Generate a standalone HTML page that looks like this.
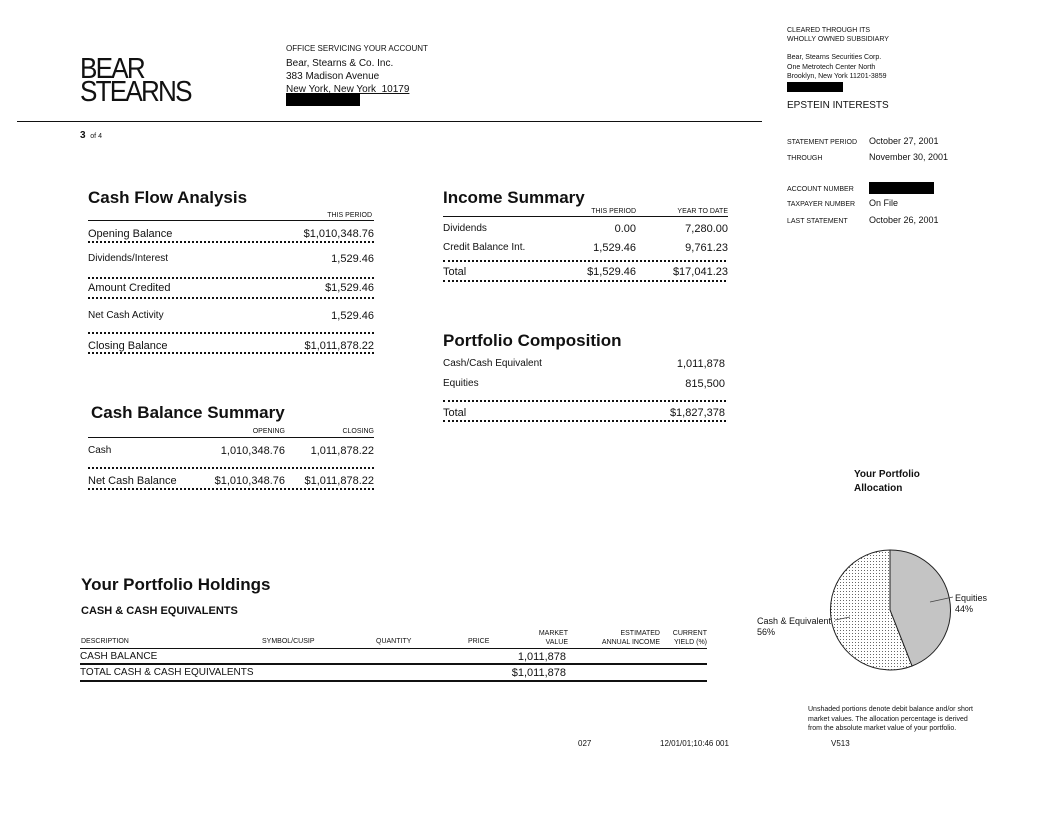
<!DOCTYPE html>
<html><head><meta charset="utf-8"><style>
body{margin:0;background:#fff;}
#p{position:relative;width:1056px;height:816px;overflow:hidden;font-family:"Liberation Sans",sans-serif;color:#111;}
.t{position:absolute;white-space:nowrap;line-height:1;}
.r{text-align:right;}
.s{font-size:11px;}
.x{font-size:7px;}
.h{font-size:17px;font-weight:bold;}
.d{position:absolute;height:0;border-top:2px dotted #111;}
.l{position:absolute;height:0;border-top:1px solid #111;}
.k{position:absolute;background:#000;}
</style></head><body><div id="p">
<div class="t" style="left:80px;top:58px;font-size:29px;line-height:23px;letter-spacing:-2px;transform:scaleX(0.9);transform-origin:left top">BEAR<br>STEARNS</div>
<div class="t x" style="left:286px;top:45px;font-size:8px">OFFICE SERVICING YOUR ACCOUNT</div>
<div class="t s" style="left:286px;top:57px;font-size:10px;line-height:13px">Bear, Stearns &amp; Co. Inc.<br>383 Madison Avenue<br><u>New York, New York&nbsp; 10179</u></div>
<div class="k" style="left:286px;top:93px;width:74px;height:13px"></div>
<div class="l" style="left:17px;top:121px;width:745px"></div>
<div class="t" style="left:80px;top:131px;font-size:10px;font-weight:bold">3 <span style="font-size:7px;font-weight:normal">&nbsp;of 4</span></div>

<div class="t x" style="left:787px;top:26px;line-height:9px">CLEARED THROUGH ITS<br>WHOLLY OWNED SUBSIDIARY</div>
<div class="t x" style="left:787px;top:53px;line-height:9.5px">Bear, Stearns Securities Corp.<br>One Metrotech Center North<br>Brooklyn, New York 11201-3859</div>
<div class="k" style="left:787px;top:82px;width:56px;height:10px"></div>
<div class="t" style="left:787px;top:101px;font-size:10px">EPSTEIN INTERESTS</div>
<div class="t x" style="left:787px;top:139px">STATEMENT PERIOD</div>
<div class="t" style="left:869px;top:137px;font-size:9px">October 27, 2001</div>
<div class="t x" style="left:787px;top:155px">THROUGH</div>
<div class="t" style="left:869px;top:153px;font-size:9px">November 30, 2001</div>
<div class="t x" style="left:787px;top:186px">ACCOUNT NUMBER</div>
<div class="k" style="left:869px;top:182px;width:65px;height:12px"></div>
<div class="t x" style="left:787px;top:201px">TAXPAYER NUMBER</div>
<div class="t" style="left:869px;top:199px;font-size:9px">On File</div>
<div class="t x" style="left:787px;top:218px">LAST STATEMENT</div>
<div class="t" style="left:869px;top:216px;font-size:9px">October 26, 2001</div>

<!-- Cash flow -->
<div class="t h" style="left:88px;top:189px">Cash Flow Analysis</div>
<div class="t x r" style="right:684px;top:212px">THIS PERIOD</div>
<div class="l" style="left:88px;top:220px;width:286px"></div>
<div class="t s" style="left:88px;top:229px">Opening Balance</div>
<div class="t s r" style="right:682px;top:229px">$1,010,348.76</div>
<div class="d" style="left:88px;top:241px;width:286px"></div>
<div class="t s" style="left:88px;top:254px;font-size:10px">Dividends/Interest</div>
<div class="t s r" style="right:682px;top:254px">1,529.46</div>
<div class="d" style="left:88px;top:277px;width:286px"></div>
<div class="t s" style="left:88px;top:283px">Amount Credited</div>
<div class="t s r" style="right:682px;top:283px">$1,529.46</div>
<div class="d" style="left:88px;top:297px;width:286px"></div>
<div class="t s" style="left:88px;top:311px;font-size:10px">Net Cash Activity</div>
<div class="t s r" style="right:682px;top:311px">1,529.46</div>
<div class="d" style="left:88px;top:332px;width:286px"></div>
<div class="t s" style="left:88px;top:341px">Closing Balance</div>
<div class="t s r" style="right:682px;top:341px">$1,011,878.22</div>
<div class="d" style="left:88px;top:352px;width:286px"></div>

<!-- Cash balance -->
<div class="t h" style="left:91px;top:404px">Cash Balance Summary</div>
<div class="t x r" style="right:771px;top:428px">OPENING</div>
<div class="t x r" style="right:682px;top:428px">CLOSING</div>
<div class="l" style="left:88px;top:437px;width:286px"></div>
<div class="t s" style="left:88px;top:446px;font-size:10px">Cash</div>
<div class="t s r" style="right:771px;top:446px">1,010,348.76</div>
<div class="t s r" style="right:682px;top:446px">1,011,878.22</div>
<div class="d" style="left:88px;top:467px;width:286px"></div>
<div class="t s" style="left:88px;top:476px">Net Cash Balance</div>
<div class="t s r" style="right:771px;top:476px">$1,010,348.76</div>
<div class="t s r" style="right:682px;top:476px">$1,011,878.22</div>
<div class="d" style="left:88px;top:488px;width:286px"></div>

<!-- Income -->
<div class="t h" style="left:443px;top:189px">Income Summary</div>
<div class="t x r" style="right:420px;top:208px">THIS PERIOD</div>
<div class="t x r" style="right:328px;top:208px">YEAR TO DATE</div>
<div class="l" style="left:443px;top:216px;width:285px"></div>
<div class="t s" style="left:443px;top:224px;font-size:10px">Dividends</div>
<div class="t s r" style="right:420px;top:224px">0.00</div>
<div class="t s r" style="right:328px;top:224px">7,280.00</div>
<div class="t s" style="left:443px;top:243px;font-size:10px">Credit Balance Int.</div>
<div class="t s r" style="right:420px;top:243px">1,529.46</div>
<div class="t s r" style="right:328px;top:243px">9,761.23</div>
<div class="d" style="left:443px;top:260px;width:283px"></div>
<div class="t s" style="left:443px;top:267px">Total</div>
<div class="t s r" style="right:420px;top:267px">$1,529.46</div>
<div class="t s r" style="right:328px;top:267px">$17,041.23</div>
<div class="d" style="left:443px;top:280px;width:283px"></div>

<div class="t h" style="left:443px;top:332px">Portfolio Composition</div>
<div class="t s" style="left:443px;top:359px;font-size:10px">Cash/Cash Equivalent</div>
<div class="t s r" style="right:331px;top:359px">1,011,878</div>
<div class="t s" style="left:443px;top:379px;font-size:10px">Equities</div>
<div class="t s r" style="right:331px;top:379px">815,500</div>
<div class="d" style="left:443px;top:400px;width:283px"></div>
<div class="t s" style="left:443px;top:408px">Total</div>
<div class="t s r" style="right:331px;top:408px">$1,827,378</div>
<div class="d" style="left:443px;top:420px;width:283px"></div>

<!-- holdings -->
<div class="t h" style="left:81px;top:576px">Your Portfolio Holdings</div>
<div class="t" style="left:81px;top:606px;font-size:11px;font-weight:bold">CASH &amp; CASH EQUIVALENTS</div>
<div class="t x" style="left:81px;top:638px">DESCRIPTION</div>
<div class="t x" style="left:262px;top:638px">SYMBOL/CUSIP</div>
<div class="t x" style="left:376px;top:638px">QUANTITY</div>
<div class="t x" style="left:468px;top:638px">PRICE</div>
<div class="t x r" style="right:488px;top:629px;line-height:9px">MARKET<br>VALUE</div>
<div class="t x r" style="right:396px;top:629px;line-height:9px">ESTIMATED<br>ANNUAL INCOME</div>
<div class="t x r" style="right:349px;top:629px;line-height:9px">CURRENT<br>YIELD (%)</div>
<div class="l" style="left:80px;top:648px;width:627px"></div>
<div class="t s" style="left:80px;top:652px;font-size:10px">CASH BALANCE</div>
<div class="t s r" style="right:490px;top:652px">1,011,878</div>
<div class="l" style="left:80px;top:663px;width:627px;border-top-width:2px"></div>
<div class="t s" style="left:80px;top:668px;font-size:10px">TOTAL CASH &amp; CASH EQUIVALENTS</div>
<div class="t s r" style="right:490px;top:668px">$1,011,878</div>
<div class="l" style="left:80px;top:680px;width:627px;border-top-width:2px"></div>

<!-- allocation -->
<div class="t" style="left:854px;top:468px;font-size:10px;font-weight:bold;line-height:14px">Your Portfolio<br>Allocation</div>
<svg style="position:absolute;left:0;top:0" width="1056" height="816">
<defs><pattern id="dt" width="3" height="3" patternUnits="userSpaceOnUse"><rect width="3" height="3" fill="#fff"/><rect width="1" height="1" fill="#666"/></pattern></defs>
<path d="M890,610 L890,550 A60,60 0 0,1 912,666 Z" fill="#c4c4c4" stroke="#222" stroke-width="1"/>
<path d="M890,610 L912,666 A60,60 0 1,1 890,550 Z" fill="url(#dt)" stroke="#222" stroke-width="1"/>
<line x1="930" y1="602" x2="953" y2="597" stroke="#444" stroke-width="0.8"/>
<line x1="835" y1="620" x2="850" y2="617" stroke="#444" stroke-width="0.8"/>
</svg>
<div class="t" style="left:955px;top:593px;font-size:9px;line-height:11px">Equities<br>44%</div>
<div class="t" style="left:757px;top:616px;font-size:9px;line-height:11px">Cash &amp; Equivalent<br>56%</div>
<div class="t" style="left:808px;top:705px;font-size:7px;line-height:9.5px">Unshaded portions denote debit balance and/or short<br>market values. The allocation percentage is derived<br>from the absolute market value of your portfolio.</div>
<div class="t" style="left:578px;top:740px;font-size:8px">027</div>
<div class="t" style="left:660px;top:740px;font-size:8px">12/01/01;10:46 001</div>
<div class="t" style="left:831px;top:740px;font-size:8px">V513</div>
</div></body></html>
